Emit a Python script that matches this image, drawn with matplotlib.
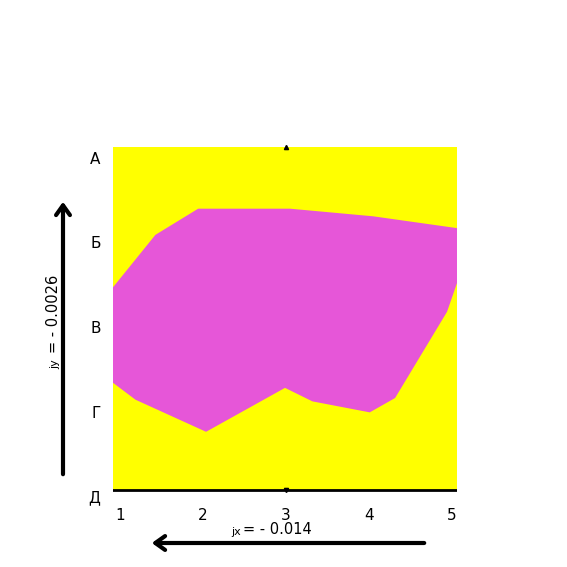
import matplotlib
matplotlib.use("Agg")
import matplotlib.pyplot as plt
from matplotlib.patches import FancyArrowPatch

# Data
x_ticks = [1, 2, 3, 4, 5]
x_labels = ["1", "2", "3", "4", "5"]
y_ticks = [0, 1, 2, 3, 4]
y_labels = ["Д", "Г", "В", "Б", "А"]

region_x = [0.92, 1.43, 1.945, 3.05, 4.05, 5.06, 5.06, 4.94, 4.315, 4.01, 3.32, 2.99, 2.04, 1.19, 0.92]
region_y = [2.47, 3.09, 3.40, 3.40, 3.31, 3.17, 2.52, 2.18, 1.16, 0.99, 1.12, 1.28, 0.76, 1.14, 1.34]

field_bottom = 0.07
field_top = 4.13
x_lim = (0.92, 5.06)
y_lim = (-0.047, 4.13)

W = 567
fig = plt.figure(figsize=(5.67, 5.67), dpi=100)
ax = fig.add_axes([113 / W, 1 - 500 / W, (457 - 113) / W, (500 - 147) / W])
ax.set_xlim(*x_lim)
ax.set_ylim(*y_lim)
ax.patch.set_alpha(0)

ax.axhspan(field_bottom, field_top, color="#ffff00", lw=0, zorder=1)
ax.fill(region_x, region_y, color="#e656d8", lw=0, zorder=2)
ax.axhline(field_bottom, color="black", lw=2, zorder=3)
ax.plot([3], [field_top], marker="^", color="black", ms=3, clip_on=False, zorder=4)
ax.plot([3], [field_bottom], marker="v", color="black", ms=3, clip_on=False, zorder=4)

for s in ax.spines.values():
    s.set_visible(False)
ax.set_xticks(x_ticks)
ax.set_xticklabels(x_labels, fontsize=11)
ax.set_yticks(y_ticks)
ax.set_yticklabels(y_labels, fontsize=11)
ax.tick_params(axis="both", length=0)
ax.tick_params(axis="x", pad=6)
ax.tick_params(axis="y", pad=9)

def fx(px):
    return px / W

def fy(py):
    return 1 - py / W

style = "->,head_length=3.5,head_width=2.5"
# vertical arrow
fig.add_artist(FancyArrowPatch((fx(63), fy(477)), (fx(63), fy(199)),
                               transform=fig.transFigure, arrowstyle=style,
                               lw=3, color="black", mutation_scale=2))
# horizontal arrow
fig.add_artist(FancyArrowPatch((fx(427), fy(543)), (fx(149), fy(543)),
                               transform=fig.transFigure, arrowstyle=style,
                               lw=3, color="black", mutation_scale=2))

fig.text(fx(55), fy(364), "jy", rotation=90, fontsize=8, ha="center", va="center")
fig.text(fx(53), fy(314), "= - 0.0026", rotation=90, fontsize=10.5, ha="center", va="center")
fig.text(fx(236), fy(532), "jx", fontsize=8, ha="center", va="center")
fig.text(fx(277), fy(530), "= - 0.014", fontsize=10.5, ha="center", va="center")

fig.savefig("out.png", dpi=100)
